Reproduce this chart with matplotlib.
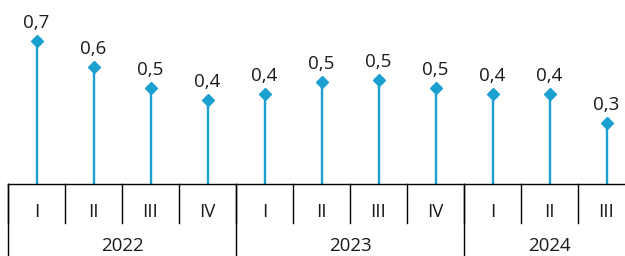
import matplotlib.pyplot as plt
import matplotlib.transforms as mtransforms

# Dane
kwartaly = ['I', 'II', 'III', 'IV', 'I', 'II', 'III', 'IV', 'I', 'II', 'III']
lata = ['2022', '2023', '2024']
kwartaly_w_roku = [4, 4, 3]
wartosci = [0.70, 0.57, 0.47, 0.41, 0.44, 0.50, 0.51, 0.47, 0.44, 0.44, 0.30]

kolor = '#1a9fcf'
kolor_tekstu = '#1a1a1a'
plt.rcParams['font.family'] = ['Open Sans', 'DejaVu Sans']

fig = plt.figure(figsize=(6.25, 2.56), dpi=100)
ax = fig.add_axes([8 / 625, 72 / 256, 627 / 625, 184 / 256])

x = list(range(len(wartosci)))
ax.vlines(x, 0, wartosci, color=kolor, linewidth=1.7, zorder=2)
ax.plot(x, wartosci, linestyle='none', marker='D', markersize=6.5,
        color=kolor, zorder=3)

for xi, v in zip(x, wartosci):
    ax.annotate(f'{v:.1f}'.replace('.', ','), (xi, v), xytext=(0, 6.5),
                textcoords='offset points', ha='center', va='bottom',
                fontsize=13.5, color=kolor_tekstu)

ax.set_xlim(-0.5, len(wartosci) - 0.5)
ax.set_ylim(0, 0.9)
for s in ['top', 'right', 'left']:
    ax.spines[s].set_visible(False)
ax.spines['bottom'].set_color('black')
ax.spines['bottom'].set_linewidth(1)
ax.set_yticks([])
ax.set_xticks([])

trans = mtransforms.blended_transform_factory(ax.transData, ax.transAxes)
h = 184
# etykiety kwartałów i separatory
for i, k in enumerate(kwartaly):
    ax.text(i, -28 / h, k, transform=trans, ha='center', va='center',
            fontsize=13.5, color=kolor_tekstu)
for i in range(len(kwartaly) + 1):
    ax.plot([i - 0.5, i - 0.5], [0, -39 / h], transform=trans,
            color='black', linewidth=1, clip_on=False)

# etykiety lat
start = 0
for rok, n in zip(lata, kwartaly_w_roku):
    srodek = start + (n - 1) / 2
    ax.text(srodek, -62 / h, rok, transform=trans, ha='center', va='center',
            fontsize=13.5, color=kolor_tekstu)
    ax.plot([start - 0.5, start - 0.5], [0, -80 / h], transform=trans,
            color='black', linewidth=1, clip_on=False)
    start += n
ax.plot([start - 0.5, start - 0.5], [0, -80 / h], transform=trans,
        color='black', linewidth=1, clip_on=False)

fig.savefig('out.png', dpi=100)
